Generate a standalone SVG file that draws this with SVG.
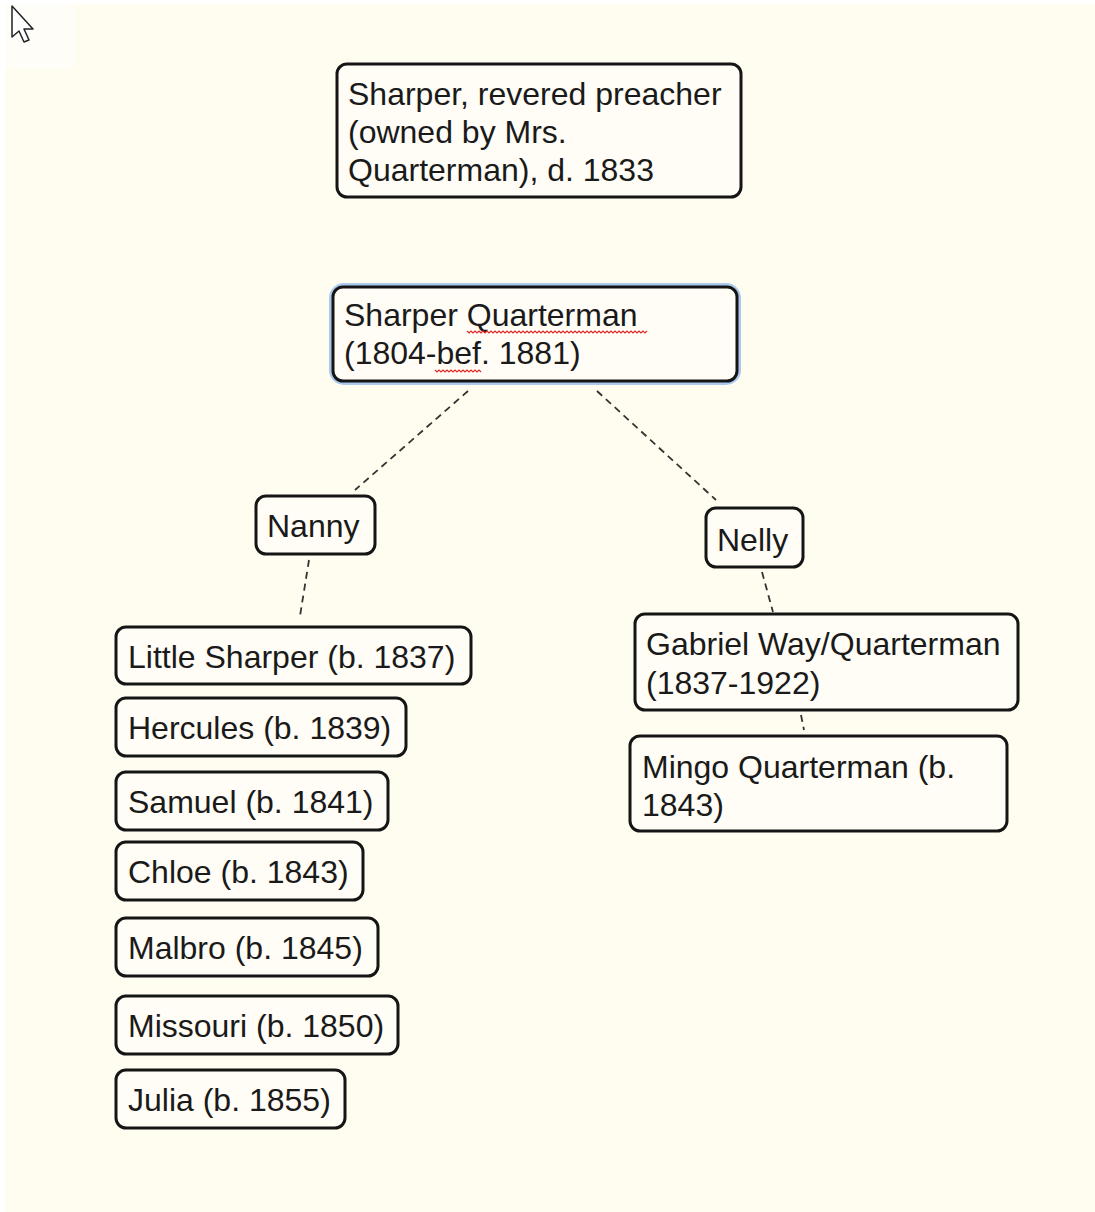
<svg xmlns="http://www.w3.org/2000/svg" width="1095" height="1212" viewBox="0 0 1095 1212">
<defs>
<style>
.box{fill:#fffdf6;stroke:#151515;stroke-width:3}
.t{font-family:"Liberation Sans",Arial,sans-serif;font-size:32px;fill:#1a1a1a}
.c{fill:none;stroke:#333;stroke-width:1.8;stroke-dasharray:7 5}
.sq{fill:none;stroke:#e02828;stroke-width:1.2}
</style>
</defs>
<rect x="0" y="0" width="1095" height="1212" fill="#ffffff"/>
<rect x="5" y="4" width="1090" height="1208" fill="#fffcf0"/>
<rect x="5" y="4" width="70" height="64" fill="#fffdf7"/>
<polygon points="12,6 12,37 19,31 24,42 29,40 24,29 33,29" fill="#ffffff" stroke="#222" stroke-width="1.5" stroke-linejoin="round"/>

<g id="connectors">
<line class="c" x1="468" y1="391" x2="355" y2="490"/>
<line class="c" x1="597" y1="391" x2="716" y2="500"/>
<line class="c" x1="309" y1="560" x2="300" y2="616"/>
<line class="c" x1="762" y1="572" x2="773" y2="612"/>
<line class="c" x1="801" y1="715" x2="804" y2="730"/>
</g>

<g id="n-sharper">
<rect class="box" x="337" y="64" width="404" height="133" rx="10"/>
<text class="t" x="348" y="105">Sharper, revered preacher</text>
<text class="t" x="348" y="143">(owned by Mrs.</text>
<text class="t" x="348" y="181">Quarterman), d. 1833</text>
</g>

<g id="n-sharper-q">
<rect x="333" y="287" width="404" height="94" rx="11" fill="none" stroke="#aac9ec" stroke-width="8"/>
<rect class="box" x="333" y="287" width="404" height="94" rx="10"/>
<text class="t" x="344" y="326">Sharper Quarterman</text>
<text class="t" x="344" y="364">(1804-bef. 1881)</text>
<path class="sq" d="M467,331 l2,2 l2,-2 l2,2 l2,-2 l2,2 l2,-2 l2,2 l2,-2 l2,2 l2,-2 l2,2 l2,-2 l2,2 l2,-2 l2,2 l2,-2 l2,2 l2,-2 l2,2 l2,-2 l2,2 l2,-2 l2,2 l2,-2 l2,2 l2,-2 l2,2 l2,-2 l2,2 l2,-2 l2,2 l2,-2 l2,2 l2,-2 l2,2 l2,-2 l2,2 l2,-2 l2,2 l2,-2 l2,2 l2,-2 l2,2 l2,-2 l2,2 l2,-2 l2,2 l2,-2 l2,2 l2,-2 l2,2 l2,-2 l2,2 l2,-2 l2,2 l2,-2 l2,2 l2,-2 l2,2 l2,-2 l2,2 l2,-2 l2,2 l2,-2 l2,2 l2,-2 l2,2 l2,-2 l2,2 l2,-2 l2,2 l2,-2 l2,2 l2,-2 l2,2 l2,-2 l2,2 l2,-2 l2,2 l2,-2 l2,2 l2,-2 l2,2 l2,-2 l2,2 l2,-2 l2,2 l2,-2 l2,2 l2,-2"/>
<path class="sq" d="M435,370 l2,2 l2,-2 l2,2 l2,-2 l2,2 l2,-2 l2,2 l2,-2 l2,2 l2,-2 l2,2 l2,-2 l2,2 l2,-2 l2,2 l2,-2 l2,2 l2,-2 l2,2 l2,-2 l2,2 l2,-2 l2,2"/>
</g>

<g id="n-nanny">
<rect class="box" x="256" y="496" width="119" height="58" rx="10"/>
<text class="t" x="267" y="537">Nanny</text>
</g>

<g id="n-nelly">
<rect class="box" x="706" y="508" width="97" height="59" rx="10"/>
<text class="t" x="717" y="551">Nelly</text>
</g>

<g id="n-little-sharper">
<rect class="box" x="116" y="627" width="355" height="57" rx="10"/>
<text class="t" x="128" y="668">Little Sharper (b. 1837)</text>
</g>

<g id="n-hercules">
<rect class="box" x="116" y="698" width="290" height="58" rx="10"/>
<text class="t" x="128" y="739">Hercules (b. 1839)</text>
</g>

<g id="n-samuel">
<rect class="box" x="116" y="772" width="272" height="58" rx="10"/>
<text class="t" x="128" y="813">Samuel (b. 1841)</text>
</g>

<g id="n-chloe">
<rect class="box" x="116" y="842" width="247" height="58" rx="10"/>
<text class="t" x="128" y="883">Chloe (b. 1843)</text>
</g>

<g id="n-malbro">
<rect class="box" x="116" y="918" width="262" height="58" rx="10"/>
<text class="t" x="128" y="959">Malbro (b. 1845)</text>
</g>

<g id="n-missouri">
<rect class="box" x="116" y="996" width="282" height="58" rx="10"/>
<text class="t" x="128" y="1037">Missouri (b. 1850)</text>
</g>

<g id="n-julia">
<rect class="box" x="116" y="1070" width="229" height="58" rx="10"/>
<text class="t" x="128" y="1111">Julia (b. 1855)</text>
</g>

<g id="n-gabriel">
<rect class="box" x="635" y="614" width="383" height="96" rx="10"/>
<text class="t" x="646" y="655">Gabriel Way/Quarterman</text>
<text class="t" x="646" y="694">(1837-1922)</text>
</g>

<g id="n-mingo">
<rect class="box" x="630" y="736" width="377" height="95" rx="10"/>
<text class="t" x="642" y="778">Mingo Quarterman (b.</text>
<text class="t" x="642" y="816">1843)</text>
</g>
</svg>
